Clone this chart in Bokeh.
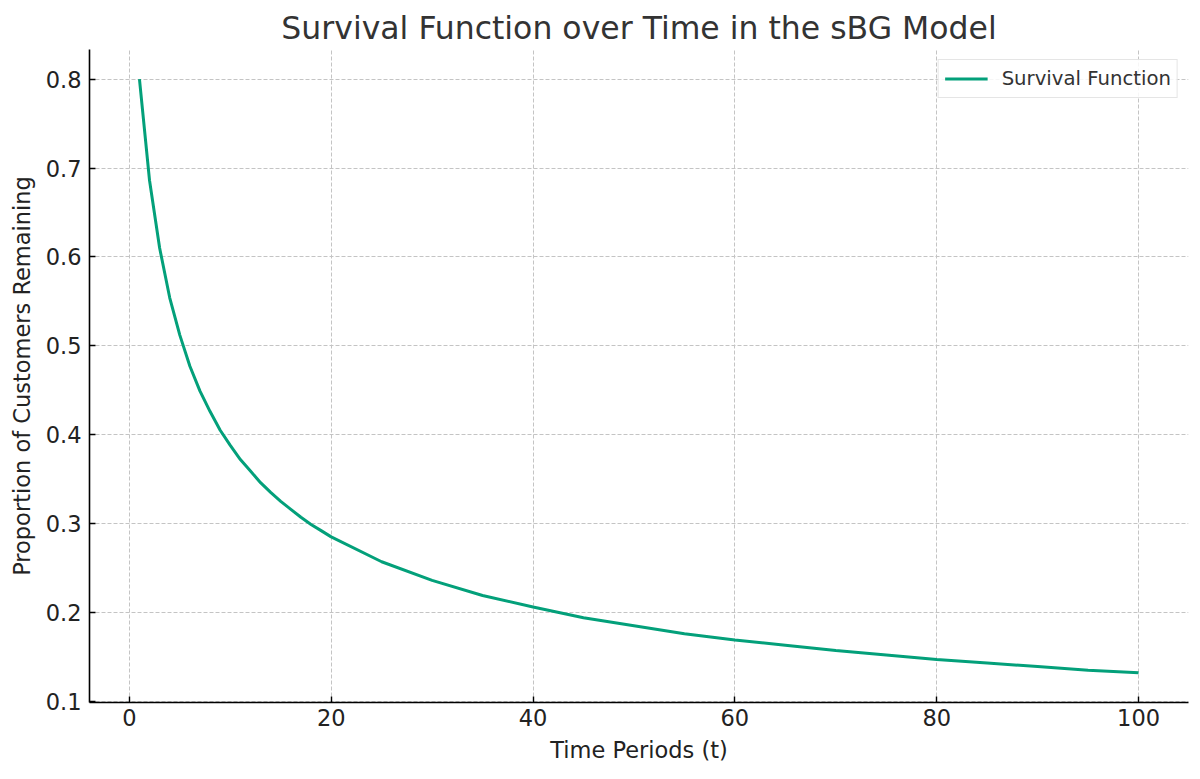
from bokeh.plotting import figure
from bokeh.models import Range1d, FixedTicker
from bokeh.embed import file_html
from bokeh.resources import INLINE

# Data
t_values = [1, 2, 3, 4, 5, 6, 7, 8, 9, 10, 11, 12, 13, 14, 15, 16, 17, 18, 19, 20,
            25, 30, 35, 40, 45, 50, 55, 60, 65, 70, 75, 80, 85, 90, 95, 100]
survival = [0.800, 0.686, 0.610, 0.554, 0.512, 0.477, 0.449, 0.426, 0.405, 0.388,
            0.372, 0.359, 0.346, 0.335, 0.325, 0.316, 0.307, 0.299, 0.292, 0.285,
            0.257, 0.236, 0.219, 0.206, 0.194, 0.185, 0.176, 0.169, 0.163, 0.157,
            0.152, 0.147, 0.143, 0.139, 0.135, 0.132]
x_ticks = [0, 20, 40, 60, 80, 100]
y_ticks = [0.1, 0.2, 0.3, 0.4, 0.5, 0.6, 0.7, 0.8]

title_text = "Survival Function over Time in the sBG Model"
x_label = "Time Periods (t)"
y_label = "Proportion of Customers Remaining"
series_name = "Survival Function"

FONT = "DejaVu Sans"

p = figure(width=1194, height=765, output_backend="svg", toolbar_location=None,
           x_range=Range1d(-3.95, 104.95), y_range=Range1d(0.0986, 0.8334),
           min_border_left=89, min_border_right=6, min_border_top=49, min_border_bottom=60)

p.line(t_values, survival, line_color="#03a07a", line_width=3, legend_label=series_name)

p.title.text = title_text
p.title.align = "center"
p.title.text_font = FONT
p.title.text_font_size = "31.5px"
p.title.text_font_style = "normal"
p.title.text_color = "#333333"
p.title.standoff = 7

p.outline_line_color = None
p.background_fill_color = "white"
p.border_fill_color = "white"

for ax in (p.xaxis[0], p.yaxis[0]):
    ax.axis_line_color = "black"
    ax.axis_line_width = 1.6
    ax.major_tick_in = 6
    ax.major_tick_out = 0
    ax.major_tick_line_width = 1.4
    ax.minor_tick_line_color = None
    ax.major_label_text_font = FONT
    ax.major_label_text_font_size = "22.5px"
    ax.major_label_text_color = "#222222"
    ax.axis_label_text_font = FONT
    ax.axis_label_text_font_size = "22.5px"
    ax.axis_label_text_font_style = "normal"
    ax.axis_label_text_color = "#222222"

p.xaxis.ticker = FixedTicker(ticks=x_ticks)
p.yaxis.ticker = FixedTicker(ticks=y_ticks)
p.xaxis.axis_label = x_label
p.yaxis.axis_label = y_label
p.xaxis.major_label_standoff = 6
p.yaxis.major_label_standoff = 8
p.xaxis.axis_label_standoff = 8
p.yaxis.axis_label_standoff = 8

for g in (p.xgrid[0], p.ygrid[0]):
    g.grid_line_color = "#c4c4c4"
    g.grid_line_dash = "4 2"
    g.grid_line_width = 1

p.legend.location = "top_right"
p.legend.margin = 10
p.legend.padding = 6
p.legend.border_line_color = "#cccccc"
p.legend.border_line_width = 1.2
p.legend.background_fill_alpha = 0.85
p.legend.label_text_font = FONT
p.legend.label_text_font_size = "19.7px"
p.legend.label_text_color = "#333333"
p.legend.glyph_width = 43
p.legend.glyph_height = 25
p.legend.label_height = 25
p.legend.label_standoff = 14

open("out.html", "w").write(file_html(p, INLINE))
